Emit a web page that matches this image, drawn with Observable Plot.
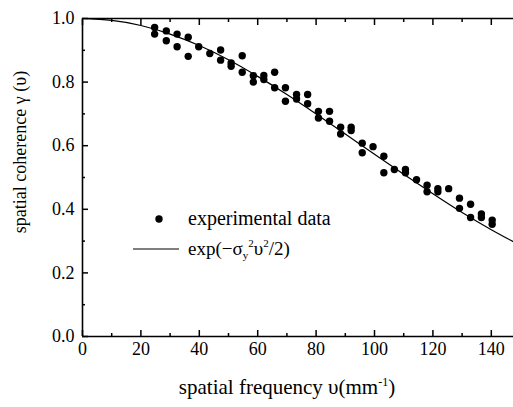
<!DOCTYPE html>
<html>
<head>
<meta charset="utf-8">
<script src="https://cdn.jsdelivr.net/npm/d3@7"></script>
<script src="https://cdn.jsdelivr.net/npm/@observablehq/plot@0.6"></script>
<style>
  html, body { margin: 0; padding: 0; background: #fff; overflow: hidden; }
  #chart svg { display: block; }
  #chart svg text { font-family: "Liberation Serif", "DejaVu Serif", serif; }
</style>
</head>
<body>
<div id="chart"></div>
<script>
// Experimental data (spatial frequency, coherence)
const freq = [24.7, 24.7, 28.7, 28.7, 32.4, 32.4, 36.2, 36.2, 39.8, 43.6,
  47.3, 47.3, 50.9, 50.9, 54.7, 54.7, 58.5, 58.5, 62.1, 62.1,
  65.8, 65.8, 69.5, 69.5, 73.3, 73.3, 77.1, 77.1, 80.8, 80.8,
  84.6, 84.6, 88.4, 88.4, 92.0, 92.0, 95.8, 95.8, 99.5, 103.2,
  103.2, 106.8, 110.6, 110.6, 114.4, 118.0, 118.0, 121.7, 121.7, 125.4,
  129.1, 129.1, 132.9, 132.9, 136.6, 136.6, 140.3, 140.3];
const coherence = [0.972, 0.951, 0.961, 0.930, 0.951, 0.911, 0.941, 0.881, 0.911, 0.890,
  0.901, 0.869, 0.860, 0.850, 0.883, 0.831, 0.820, 0.800, 0.821, 0.808,
  0.831, 0.782, 0.782, 0.740, 0.761, 0.747, 0.761, 0.732, 0.708, 0.687,
  0.708, 0.677, 0.658, 0.637, 0.658, 0.648, 0.608, 0.578, 0.597, 0.567,
  0.515, 0.525, 0.525, 0.515, 0.493, 0.476, 0.455, 0.465, 0.455, 0.465,
  0.435, 0.403, 0.416, 0.374, 0.385, 0.374, 0.366, 0.353];

// Fitted curve exp(-sigma^2 v^2 / 2)
const curveFreq = [0, 10, 20, 30, 40, 50, 60, 70, 80, 90, 100, 110, 120, 130, 140, 150];
const curveVal = [1.0, 0.994, 0.978, 0.951, 0.915, 0.870, 0.818, 0.761, 0.700, 0.637, 0.573, 0.510, 0.449, 0.390, 0.336, 0.286];

const xMajor = [0, 20, 40, 60, 80, 100, 120, 140];
const xMinor = [10, 30, 50, 70, 90, 110, 130];
const yMajor = [0, 0.2, 0.4, 0.6, 0.8, 1.0];
const yMinor = [0.1, 0.3, 0.5, 0.7, 0.9];

const points = freq.map((f, i) => ({x: f, y: coherence[i]}));
const curve = curveFreq.map((f, i) => ({x: f, y: curveVal[i]}));

const font = "Liberation Serif, DejaVu Serif, serif";

const chart = Plot.plot({
  width: 513,
  height: 407,
  marginLeft: 82,
  marginRight: 0,
  marginTop: 18,
  marginBottom: 71,
  x: {domain: [0, 147.6]},
  y: {domain: [0, 1]},
  style: {fontFamily: font, fontSize: "18px", background: "#fff", color: "#000"},
  marks: [
    Plot.line(curve, {x: "x", y: "y", stroke: "#000", strokeWidth: 1.2, curve: "natural", clip: true}),
    Plot.dot(points, {x: "x", y: "y", r: 3.7, fill: "#000"}),
    Plot.ruleX([0], {stroke: "#000", strokeWidth: 1.6}),
    Plot.ruleY([0, 1], {stroke: "#000", strokeWidth: 1.6}),
    // bottom axis
    Plot.axisX(xMajor, {anchor: "bottom", tickSize: -6, tickFormat: () => "", label: null, strokeWidth: 1.5}),
    Plot.axisX(xMinor, {anchor: "bottom", tickSize: -3, tickFormat: () => "", label: null, strokeWidth: 1.5}),
    Plot.axisX(xMajor, {anchor: "bottom", tickSize: 0, tickPadding: 6, tickFormat: d => String(d), label: null, fontSize: 18}),
    // top axis
    Plot.axisX(xMajor, {anchor: "top", tickSize: -6, tickFormat: () => "", label: null, strokeWidth: 1.5}),
    Plot.axisX(xMinor, {anchor: "top", tickSize: -3, tickFormat: () => "", label: null, strokeWidth: 1.5}),
    // left axis
    Plot.axisY(yMajor, {anchor: "left", tickSize: -6, tickFormat: () => "", label: null, strokeWidth: 1.5}),
    Plot.axisY(yMinor, {anchor: "left", tickSize: -3, tickFormat: () => "", label: null, strokeWidth: 1.5}),
    Plot.axisY(yMajor, {anchor: "left", tickSize: 0, tickPadding: 8, tickFormat: d => d.toFixed(1), label: null, fontSize: 18})
  ]
});

document.getElementById("chart").appendChild(chart);

// Axis titles and legend with sub/superscripts
const svg = d3.select(chart);
const g = svg.append("g").attr("font-family", font).attr("fill", "#000").attr("text-anchor", "start");

const xl = g.append("text").attr("x", 287).attr("y", 394).attr("text-anchor", "middle").attr("font-size", 21);
xl.append("tspan").text("spatial frequency \u03C5(mm");
xl.append("tspan").attr("dy", -8).attr("font-size", 12).text("-1");
xl.append("tspan").attr("dy", 8).text(")");

g.append("text")
  .attr("transform", "translate(26,152) rotate(-90)")
  .attr("text-anchor", "middle").attr("font-size", 18)
  .text("spatial coherence \u03B3 (\u03C5)");

// legend
g.append("circle").attr("cx", 159).attr("cy", 219).attr("r", 3.7).attr("fill", "#000");
g.append("text").attr("x", 188).attr("y", 225).attr("font-size", 20).text("experimental data");
g.append("line").attr("x1", 133).attr("x2", 179).attr("y1", 249).attr("y2", 249).attr("stroke", "#000").attr("stroke-width", 1);
const lt = g.append("text").attr("x", 188).attr("y", 255).attr("font-size", 19);
lt.append("tspan").text("exp(\u2212\u03C3");
lt.append("tspan").attr("dy", 4).attr("font-size", 11).text("y");
lt.append("tspan").attr("dy", -12).attr("font-size", 11).text("2");
lt.append("tspan").attr("dy", 8).text("\u03C5");
lt.append("tspan").attr("dy", -8).attr("font-size", 11).text("2");
lt.append("tspan").attr("dy", 8).text("/2)");
</script>
</body>
</html>
